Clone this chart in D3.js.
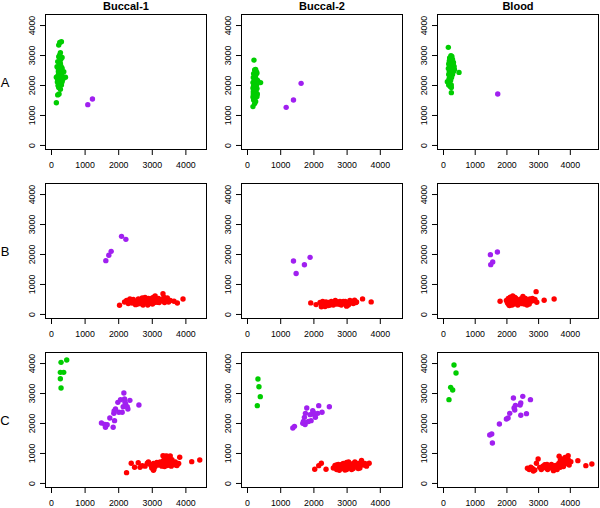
<!DOCTYPE html>
<html>
<head>
<meta charset="utf-8">
<script src="https://cdn.jsdelivr.net/npm/d3@7"></script>
<style>
html,body{margin:0;padding:0;background:#fff;}
svg{display:block;}
text{font-family:"Liberation Sans",Arial,Helvetica,sans-serif;fill:#000;}
</style>
</head>
<body>
<svg id="chart" width="600" height="508"></svg>
<script>
// ---------- data ----------
const columns = ["Buccal-1", "Buccal-2", "Blood"];
const rows = ["A", "B", "C"];
const xMaxByColumn = [4465, 4518, 4731];
const yMax = 4200;
const tickValues = [0, 1000, 2000, 3000, 4000];
const groupColors = {green: "#00CD00", purple: "#A020F0", red: "#FF0000"};

// Row A
const b1A_green = [[260,3420],[310,3440],[230,3330],[280,3080],[260,3000],[230,2940],[330,2920],[200,2780],[280,2720],[250,2680],[180,2610],[300,2620],[330,2560],[260,2500],[220,2530],[380,2440],[230,2390],[300,2400],[160,2260],[430,2260],[280,2220],[350,2240],[200,2170],[250,2180],[330,2110],[190,2100],[260,2030],[300,2060],[230,1920],[280,1860],[210,1980],[200,1670],[240,1700],[160,1410],[270,2300],[320,2350],[210,2320],[240,2600],[290,2850],[270,2950],[350,2180],[180,2250],[260,2150],[310,2000],[220,2450]];
const b1A_purple = [[1095,1344],[1234,1533]];
const b2A_green = [[210,2830],[230,2500],[280,2440],[260,2520],[200,2380],[300,2400],[250,2300],[190,2250],[270,2200],[220,2150],[320,2150],[180,2080],[410,2080],[240,2050],[290,2000],[200,1980],[260,1950],[180,1900],[300,1880],[230,1850],[270,1800],[190,1780],[250,1750],[310,1700],[210,1650],[180,1600],[280,1620],[240,1560],[200,1500],[260,1450],[180,1280],[230,1380],[300,1620],[210,2100],[270,2350],[190,1700]];
const b2A_purple = [[1180,1255],[1400,1500],[1630,2055]];
const blA_green = [[168,3256],[250,2980],[280,2950],[230,2900],[300,2850],[200,2800],[260,2780],[330,2750],[180,2700],[240,2700],[290,2650],[210,2620],[350,2620],[260,2600],[170,2550],[300,2550],[230,2500],[280,2480],[200,2450],[330,2450],[505,2420],[250,2400],[180,2350],[300,2350],[220,2300],[270,2250],[190,2200],[240,2150],[137,2110],[200,2080],[260,2000],[180,2000],[230,1950],[263,1920],[263,1744],[320,2700],[210,2900],[360,2520]];
const blA_purple = [[1726,1700]];

// Row B
const b1B_purple = [[1632,1778],[1721,1956],[1791,2089],[2100,2589],[2229,2489]];
const b1B_red = [[2040,289],[2189,400],[2250,450],[2318,456],[2380,380],[2418,367],[2450,480],[2517,311],[2560,420],[2617,456],[2650,350],[2700,500],[2716,533],[2750,400],[2780,450],[2820,380],[2866,422],[2900,520],[2930,350],[2960,460],[3015,533],[3050,420],[3080,380],[3100,600],[3130,480],[3164,389],[3200,520],[3240,430],[3280,470],[3333,678],[3360,560],[3400,420],[3420,500],[3463,533],[3500,400],[3550,450],[3662,422],[3761,367],[3930,500],[2300,350],[2350,500],[2480,420],[2580,330],[2680,420],[2740,300],[2800,550],[2850,480],[2950,420],[3000,380],[3060,560],[3150,450],[3220,380],[3300,450],[3380,380],[3450,450],[2600,500],[2880,300],[3020,330]];
const b2B_purple = [[1400,1765],[1480,1352],[1730,1642],[1900,1888]];
const b2B_red = [[1920,369],[2080,313],[2200,380],[2250,300],[2280,420],[2320,350],[2350,250],[2380,400],[2420,330],[2460,380],[2500,300],[2540,420],[2580,350],[2620,380],[2660,450],[2700,330],[2730,400],[2760,360],[2800,420],[2840,300],[2880,380],[2920,350],[2960,420],[3000,260],[3030,380],[3070,330],[3100,450],[3150,400],[3200,350],[3240,460],[3280,380],[3480,503],[3740,402],[2240,240],[2300,380],[2400,280],[2550,330],[2680,380],[2780,320],[2900,420],[3050,300],[3180,420],[3300,400],[2450,280],[2600,300]];
const blB_purple = [[1495,1978],[1716,2067],[1505,1644],[1568,1733]];
const blB_red = [[1800,422],[2000,450],[2030,380],[2060,520],[2080,300],[2100,420],[2120,560],[2140,350],[2160,480],[2180,300],[2200,600],[2220,400],[2250,450],[2280,350],[2300,520],[2330,400],[2360,300],[2400,450],[2420,380],[2450,500],[2480,350],[2520,580],[2540,420],[2560,330],[2590,480],[2620,380],[2650,300],[2680,450],[2700,380],[2740,500],[2780,420],[2820,520],[2860,450],[2900,480],[2937,744],[2958,389],[3190,456],[3505,500],[2050,350],[2110,500],[2170,430],[2230,330],[2270,550],[2350,470],[2500,420],[2600,520],[2640,400],[2720,330],[2100,280],[2190,520]];

// Row C
const b1C_green = [[299,4022],[468,4100],[279,3689],[378,3689],[279,3478],[299,3167]];
const b1C_purple = [[1502,2000],[1622,1856],[1672,1944],[1751,2167],[1851,1856],[1891,2078],[1871,2322],[1920,2467],[1990,2689],[2020,2356],[2119,2356],[2149,2544],[2189,2800],[2169,3000],[2219,2633],[2269,2544],[2289,2467],[2348,2756],[2617,2600],[2070,2778],[1600,1950],[1880,2400],[2200,2700]];
const b1C_red = [[2249,344],[2388,656],[2488,522],[2597,678],[2716,578],[2866,656],[2985,578],[3065,467],[3164,633],[3333,911],[3463,889],[3612,689],[3711,600],[3831,856],[4189,711],[4428,767],[2650,520],[2800,560],[2900,700],[3000,500],[3050,650],[3100,550],[3200,600],[3250,700],[3300,620],[3350,750],[3380,550],[3400,820],[3420,650],[3450,580],[3480,720],[3500,600],[3520,800],[3550,650],[3580,560],[3600,780],[3650,620],[3700,700],[3750,580],[3800,650],[3300,560],[3150,680],[3550,900],[3420,900],[3050,420],[2950,620]];
const b2C_green = [[330,3467],[360,3211],[400,2878],[310,2578]];
const b2C_purple = [[1380,1833],[1430,1889],[1680,1989],[1730,2189],[1800,2500],[1760,2322],[1930,2078],[1980,2411],[2030,2278],[2130,2322],[2160,2578],[2260,2356],[2480,2544],[1900,2278],[2060,2189],[1750,1950],[1850,2050],[2000,2350],[1700,2050]];
const b2C_red = [[2040,456],[2160,578],[2240,656],[2380,456],[2600,500],[2650,580],[2700,450],[2750,620],[2800,520],[2850,480],[2900,650],[2950,550],[3000,450],[3020,600],[3060,700],[3100,520],[3150,620],[3200,480],[3250,700],[3300,560],[3350,650],[3400,500],[3450,750],[3500,600],[3550,650],[3600,560],[3680,656],[2700,600],[2850,620],[2950,430],[3050,520],[3150,450],[3250,580],[3350,480],[3420,620],[3000,680],[3200,650],[2780,420]];
const blC_green = [[347,3933],[411,3667],[242,3189],[305,3100],[189,2778]];
const blC_purple = [[1474,1600],[1537,1633],[1558,1333],[1779,1967],[2000,2133],[2053,2167],[2105,2322],[2221,2833],[2242,2500],[2284,2589],[2453,2667],[2453,2256],[2516,2889],[2632,2311],[2758,2778],[2263,2433],[2432,2600]];
const blC_red = [[2663,489],[2768,522],[2895,433],[2947,656],[3000,800],[3137,500],[3210,611],[3347,578],[3484,411],[3611,522],[3663,889],[3737,800],[3874,689],[3947,911],[4032,711],[4253,744],[4505,578],[4695,633],[2720,450],[2820,480],[2850,400],[3100,450],[3150,560],[3250,500],[3280,620],[3300,450],[3400,550],[3450,480],[3550,580],[3600,450],[3650,650],[3700,750],[3750,580],[3800,700],[3850,850],[3900,650],[3950,780],[3980,600],[3700,520],[3420,620],[3050,520],[3800,550]];

const panels = [
  [ {green: b1A_green, purple: b1A_purple}, {green: b2A_green, purple: b2A_purple}, {green: blA_green, purple: blA_purple} ],
  [ {purple: b1B_purple, red: b1B_red}, {purple: b2B_purple, red: b2B_red}, {purple: blB_purple, red: blB_red} ],
  [ {green: b1C_green, purple: b1C_purple, red: b1C_red}, {green: b2C_green, purple: b2C_purple, red: b2C_red}, {green: blC_green, purple: blC_purple, red: blC_red} ]
];

// ---------- layout ----------
const panelLeft = [45, 241, 437];
const panelTop = [14, 183, 352];
const panelW = 162, panelH = 136;
const svg = d3.select("#chart");

columns.forEach((name, c) => {
  svg.append("text")
    .attr("x", panelLeft[c] + panelW / 2).attr("y", 10)
    .attr("text-anchor", "middle")
    .style("font-size", "11px").style("font-weight", "bold")
    .text(name);
});
rows.forEach((name, r) => {
  svg.append("text")
    .attr("x", 5).attr("y", panelTop[r] + panelH / 2 + 4.5)
    .attr("text-anchor", "middle")
    .style("font-size", "13px")
    .text(name);
});

rows.forEach((rn, r) => {
  columns.forEach((cn, c) => {
    const xMax = xMaxByColumn[c];
    const x = d3.scaleLinear().domain([-0.04 * xMax, 1.04 * xMax]).range([panelLeft[c], panelLeft[c] + panelW]);
    const y = d3.scaleLinear().domain([-0.04 * yMax, 1.04 * yMax]).range([panelTop[r] + panelH, panelTop[r]]);
    const g = svg.append("g");

    const xAxis = g.append("g").attr("transform", `translate(0,${panelTop[r] + panelH})`)
      .call(d3.axisBottom(x).tickValues(tickValues).tickSize(5).tickPadding(5).tickFormat(d3.format("d")));
    const yAxis = g.append("g").attr("transform", `translate(${panelLeft[c]},0)`)
      .call(d3.axisLeft(y).tickValues(tickValues).tickSize(5).tickFormat(d3.format("d")));
    [xAxis, yAxis].forEach(a => {
      a.select(".domain").remove();
      a.selectAll(".tick line").attr("stroke", "#000");
      a.selectAll("text").style("font-size", "8.8px").attr("fill", "#000");
    });
    xAxis.selectAll("text").attr("dy", null).attr("y", 18);
    yAxis.selectAll("text")
      .attr("x", null).attr("dy", null)
      .attr("text-anchor", "middle")
      .attr("transform", "translate(-10,0) rotate(-90)");

    const data = panels[r][c];
    ["green", "purple", "red"].forEach(k => {
      if (!data[k]) return;
      g.append("g").selectAll("circle").data(data[k]).join("circle")
        .attr("cx", d => x(d[0])).attr("cy", d => y(d[1]))
        .attr("r", 2.7).attr("fill", groupColors[k]);
    });

    g.append("rect")
      .attr("x", panelLeft[c] + 0.5).attr("y", panelTop[r] + 0.5)
      .attr("width", panelW - 1).attr("height", panelH - 1)
      .attr("fill", "none").attr("stroke", "#000").attr("stroke-width", 1);
  });
});
</script>
</body>
</html>
